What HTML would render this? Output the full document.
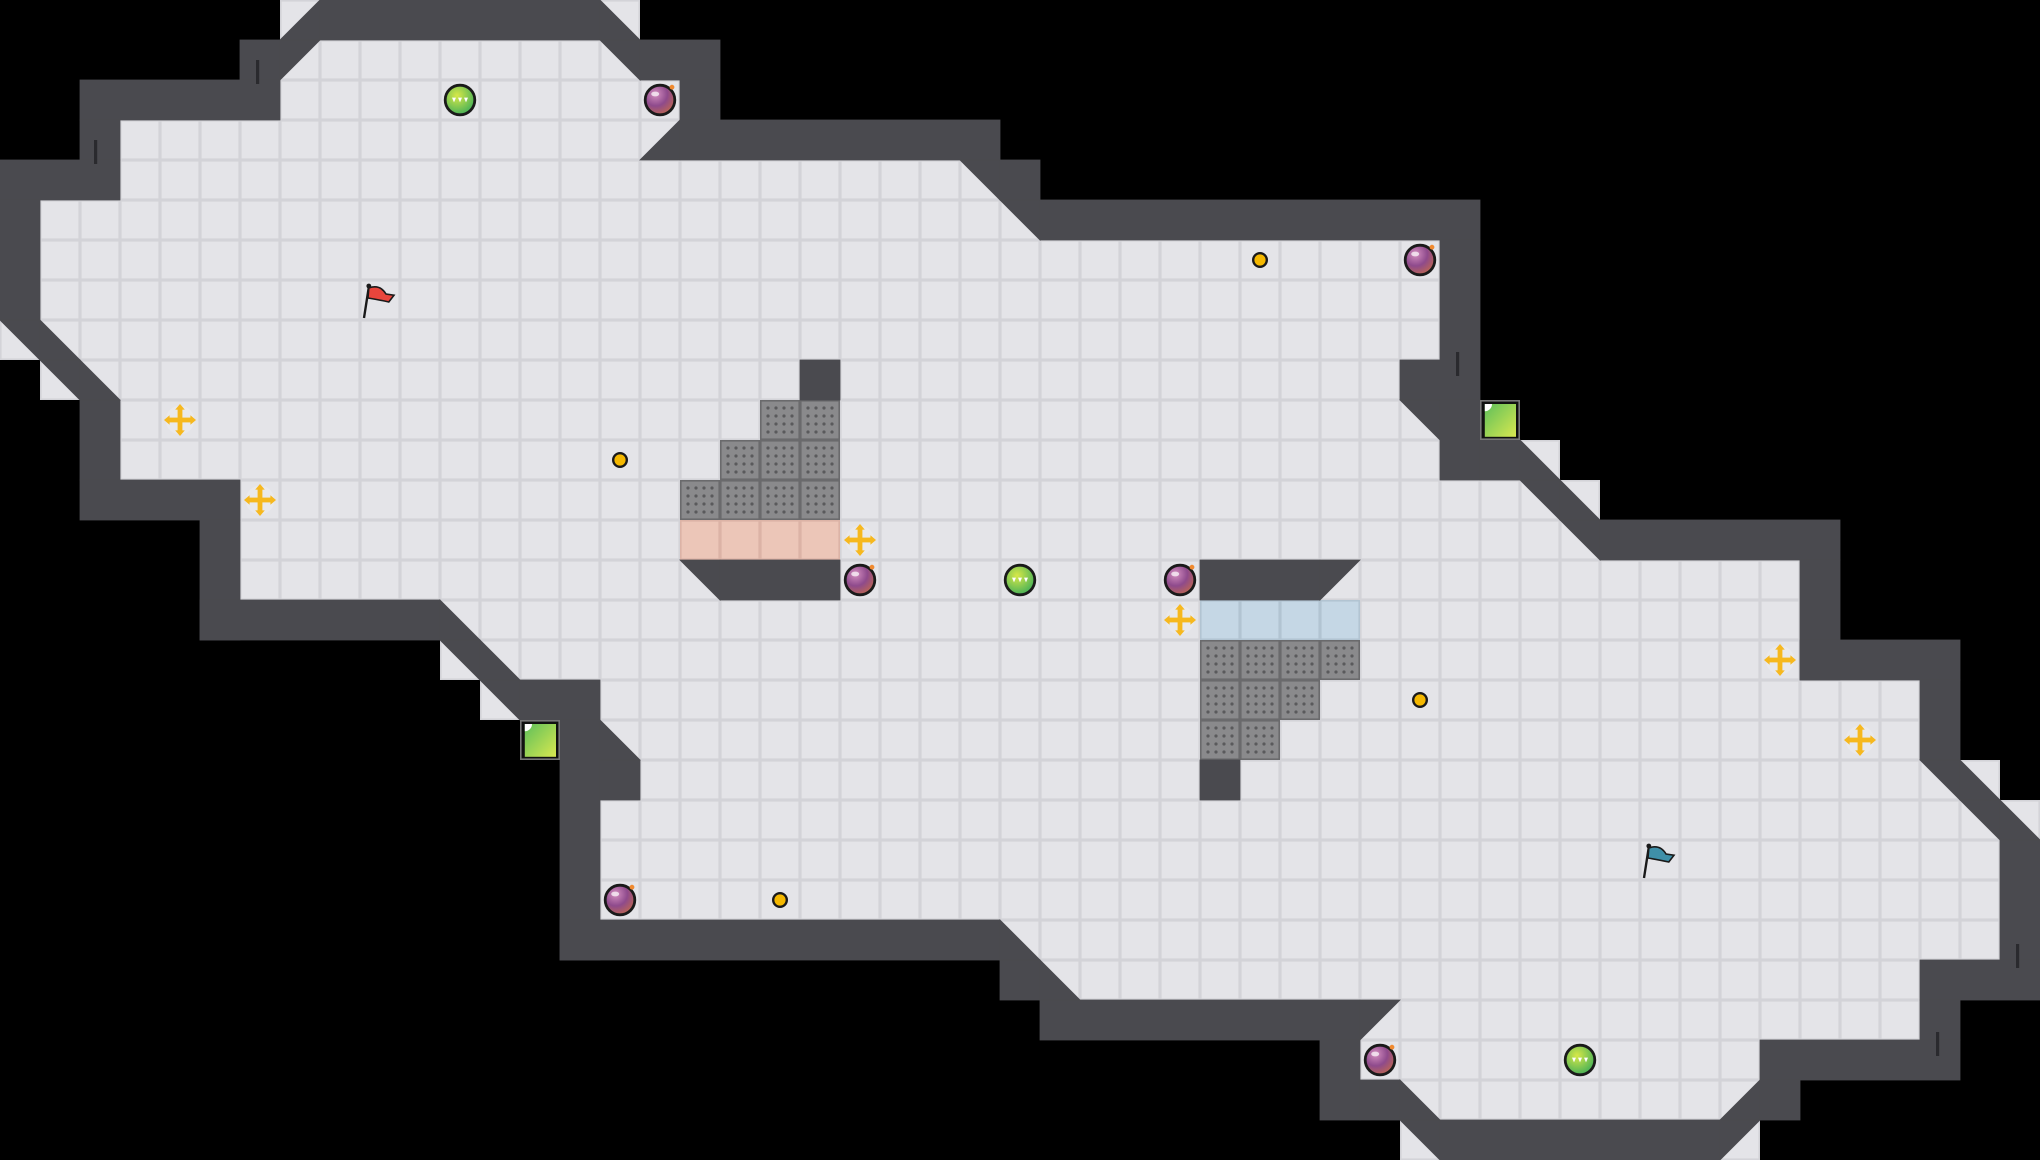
<!DOCTYPE html>
<html><head><meta charset="utf-8"><style>
html,body{margin:0;padding:0;background:#000;}
svg{display:block;}
</style></head><body>
<svg xmlns="http://www.w3.org/2000/svg" width="2040" height="1160" viewBox="0 0 51 29" preserveAspectRatio="none">
<defs>
<pattern id="fl" width="1" height="1" patternUnits="userSpaceOnUse">
<rect width="1" height="1" fill="#d3d3d8"/><rect x="0.04" y="0.04" width="0.92" height="0.92" fill="#e4e4e8"/>
</pattern>
<pattern id="gr" width="1" height="1" patternUnits="userSpaceOnUse">
<rect width="1" height="1" fill="#6a6a6c"/><rect x="0.04" y="0.04" width="0.92" height="0.92" fill="#8a8a8c"/>
<g fill="#5a5a5c">
<circle cx="0.2" cy="0.2" r="0.04"/><circle cx="0.4" cy="0.2" r="0.04"/><circle cx="0.6" cy="0.2" r="0.04"/><circle cx="0.8" cy="0.2" r="0.04"/>
<circle cx="0.2" cy="0.4" r="0.04"/><circle cx="0.4" cy="0.4" r="0.04"/><circle cx="0.6" cy="0.4" r="0.04"/><circle cx="0.8" cy="0.4" r="0.04"/>
<circle cx="0.2" cy="0.6" r="0.04"/><circle cx="0.4" cy="0.6" r="0.04"/><circle cx="0.6" cy="0.6" r="0.04"/><circle cx="0.8" cy="0.6" r="0.04"/>
<circle cx="0.2" cy="0.8" r="0.04"/><circle cx="0.4" cy="0.8" r="0.04"/><circle cx="0.6" cy="0.8" r="0.04"/><circle cx="0.8" cy="0.8" r="0.04"/>
</g>
</pattern>
<pattern id="rt" width="1" height="1" patternUnits="userSpaceOnUse">
<rect width="1" height="1" fill="#dcb3a6"/><rect x="0.04" y="0.04" width="0.92" height="0.92" fill="#ecc6b8"/>
</pattern>
<pattern id="bt" width="1" height="1" patternUnits="userSpaceOnUse">
<rect width="1" height="1" fill="#b2c4d2"/><rect x="0.04" y="0.04" width="0.92" height="0.92" fill="#c5d7e5"/>
</pattern>
<radialGradient id="gb" cx="0.4" cy="0.35" r="0.7"><stop offset="0" stop-color="#d8e848"/><stop offset="1" stop-color="#3fae58"/></radialGradient>
<radialGradient id="pb" cx="0.35" cy="0.3" r="0.8"><stop offset="0" stop-color="#d58fc0"/><stop offset="0.5" stop-color="#8e4a8c"/><stop offset="1" stop-color="#c46a4a"/></radialGradient>
<linearGradient id="gx" x1="0" y1="0" x2="1" y2="1"><stop offset="0" stop-color="#5fbf5a"/><stop offset="1" stop-color="#d8e850"/></linearGradient>
<g id="boost"><circle r="0.36" fill="#ececef" opacity="0.6"/>
<g fill="#f6b81f"><rect x="-0.3" y="-0.06" width="0.6" height="0.12"/><rect x="-0.06" y="-0.3" width="0.12" height="0.6"/>
<polygon points="-0.4,0 -0.26,-0.12 -0.26,0.12"/><polygon points="0.4,0 0.26,-0.12 0.26,0.12"/>
<polygon points="0,-0.4 -0.12,-0.26 0.12,-0.26"/><polygon points="0,0.4 -0.12,0.26 0.12,0.26"/></g></g>
<g id="jj"><circle r="0.37" fill="url(#gb)" stroke="#1a1a1a" stroke-width="0.07"/>
<g fill="#fff"><polygon points="-0.2,-0.06 -0.1,-0.06 -0.15,0.06"/><polygon points="-0.05,-0.06 0.05,-0.06 0,0.06"/><polygon points="0.1,-0.06 0.2,-0.06 0.15,0.06"/></g></g>
<g id="bomb"><circle r="0.37" fill="url(#pb)" stroke="#1a1a1a" stroke-width="0.07"/><ellipse cx="-0.12" cy="-0.15" rx="0.1" ry="0.06" fill="#fff" opacity="0.7"/><circle cx="0.3" cy="-0.32" r="0.06" fill="#f08a30"/></g>
<g id="dot"><circle r="0.17" fill="#f5b800" stroke="#1a1a1a" stroke-width="0.06"/></g>
<g id="gbox"><rect x="-0.48" y="-0.48" width="0.96" height="0.96" fill="#111" stroke="#777" stroke-width="0.04"/><rect x="-0.38" y="-0.4" width="0.78" height="0.82" fill="url(#gx)"/><path d="M-0.38,-0.4 L-0.2,-0.4 A0.18,0.18 0 0 1 -0.38,-0.22 Z" fill="#fff"/></g>
</defs>

<g fill="url(#fl)">
<rect x="8" y="1" width="7" height="1"/>
<rect x="7" y="2" width="10" height="1"/>
<rect x="3" y="3" width="13" height="1"/>
<rect x="3" y="4" width="21" height="1"/>
<rect x="1" y="5" width="24" height="1"/>
<rect x="1" y="6" width="35" height="2"/>
<rect x="2" y="8" width="34" height="1"/>
<rect x="3" y="9" width="32" height="2"/>
<rect x="3" y="11" width="33" height="1"/>
<rect x="6" y="12" width="32" height="1"/>
<rect x="6" y="13" width="33" height="1"/>
<rect x="6" y="14" width="39" height="1"/>
<rect x="12" y="15" width="33" height="1"/>
<rect x="13" y="16" width="32" height="1"/>
<rect x="15" y="17" width="33" height="1"/>
<rect x="16" y="18" width="32" height="2"/>
<rect x="15" y="20" width="34" height="1"/>
<rect x="15" y="21" width="35" height="2"/>
<rect x="26" y="23" width="24" height="1"/>
<rect x="27" y="24" width="21" height="1"/>
<rect x="35" y="25" width="13" height="1"/>
<rect x="34" y="26" width="10" height="1"/>
<rect x="36" y="27" width="7" height="1"/>
<rect x="7" y="0" width="1" height="2"/><rect x="15" y="0" width="1" height="2"/><rect x="16" y="3" width="1" height="1"/>
<rect x="24" y="4" width="1" height="1"/><rect x="25" y="5" width="1" height="1"/>
<rect x="0" y="8" width="2" height="1"/><rect x="1" y="9" width="2" height="1"/>
<rect x="35" y="10" width="1" height="1"/><rect x="38" y="11" width="1" height="2"/><rect x="39" y="12" width="1" height="2"/>
<rect x="11" y="15" width="1" height="2"/><rect x="12" y="16" width="1" height="2"/><rect x="15" y="18" width="1" height="1"/>
<rect x="48" y="19" width="2" height="1"/><rect x="49" y="20" width="2" height="1"/>
<rect x="25" y="23" width="1" height="1"/><rect x="26" y="24" width="1" height="1"/><rect x="34" y="25" width="1" height="1"/>
<rect x="35" y="27" width="1" height="2"/><rect x="43" y="27" width="1" height="2"/>
</g>

<g fill="url(#gr)">
<rect x="19" y="10" width="2" height="1"/><rect x="18" y="11" width="3" height="1"/><rect x="17" y="12" width="4" height="1"/>
<rect x="30" y="16" width="4" height="1"/><rect x="30" y="17" width="3" height="1"/><rect x="30" y="18" width="2" height="1"/>
</g>
<rect x="17" y="13" width="4" height="1" fill="url(#rt)"/>
<rect x="30" y="15" width="4" height="1" fill="url(#bt)"/>

<g fill="#4a4a4f" stroke="#4a4a4f" stroke-width="0.02">
<rect x="8" y="0" width="7" height="1"/>
<rect x="6" y="1" width="1" height="1"/><rect x="16" y="1" width="2" height="1"/>
<rect x="2" y="2" width="5" height="1"/><rect x="17" y="2" width="1" height="1"/>
<rect x="2" y="3" width="1" height="1"/><rect x="17" y="3" width="8" height="1"/>
<rect x="0" y="4" width="3" height="1"/><rect x="25" y="4" width="1" height="1"/>
<rect x="0" y="5" width="1" height="3"/><rect x="26" y="5" width="11" height="1"/>
<rect x="36" y="6" width="1" height="4"/><rect x="35" y="9" width="1" height="1"/>
<rect x="2" y="10" width="1" height="2"/><rect x="36" y="10" width="1" height="2"/><rect x="37" y="11" width="1" height="1"/>
<rect x="2" y="12" width="4" height="1"/>
<rect x="5" y="13" width="1" height="3"/><rect x="40" y="13" width="6" height="1"/>
<rect x="45" y="14" width="1" height="3"/>
<rect x="5" y="15" width="6" height="1"/>
<rect x="45" y="16" width="4" height="1"/>
<rect x="13" y="17" width="2" height="1"/><rect x="48" y="17" width="1" height="2"/>
<rect x="14" y="18" width="1" height="6"/><rect x="15" y="19" width="1" height="1"/>
<rect x="50" y="21" width="1" height="3"/>
<rect x="14" y="23" width="11" height="1"/>
<rect x="25" y="24" width="1" height="1"/><rect x="48" y="24" width="3" height="1"/>
<rect x="26" y="25" width="8" height="1"/><rect x="48" y="25" width="1" height="1"/>
<rect x="33" y="26" width="1" height="2"/><rect x="44" y="26" width="5" height="1"/>
<rect x="34" y="27" width="1" height="1"/><rect x="44" y="27" width="1" height="1"/>
<rect x="36" y="28" width="7" height="1"/>
<rect x="20" y="9" width="1" height="1"/>
<rect x="18" y="14" width="3" height="1"/>
<rect x="30" y="14" width="3" height="1"/>
<rect x="30" y="19" width="1" height="1"/>
<polygon points="8,0 8,1 7,1"/>
<polygon points="7,1 8,1 7,2"/>
<polygon points="15,0 15,1 16,1"/>
<polygon points="15,1 16,1 16,2"/>
<polygon points="17,3 17,4 16,4"/>
<polygon points="24,4 25,4 25,5"/>
<polygon points="25,5 26,5 26,6"/>
<polygon points="0,8 1,8 1,9"/>
<polygon points="1,8 1,9 2,9"/>
<polygon points="1,9 2,9 2,10"/>
<polygon points="2,9 2,10 3,10"/>
<polygon points="35,10 36,10 36,11"/>
<polygon points="38,11 38,12 39,12"/>
<polygon points="38,12 39,12 39,13"/>
<polygon points="39,12 39,13 40,13"/>
<polygon points="39,13 40,13 40,14"/>
<polygon points="11,15 11,16 12,16"/>
<polygon points="11,16 12,16 12,17"/>
<polygon points="12,16 12,17 13,17"/>
<polygon points="12,17 13,17 13,18"/>
<polygon points="15,18 15,19 16,19"/>
<polygon points="48,19 49,19 49,20"/>
<polygon points="49,19 49,20 50,20"/>
<polygon points="49,20 50,20 50,21"/>
<polygon points="50,20 50,21 51,21"/>
<polygon points="25,23 25,24 26,24"/>
<polygon points="26,24 26,25 27,25"/>
<polygon points="34,25 35,25 34,26"/>
<polygon points="35,27 35,28 36,28"/>
<polygon points="44,27 44,28 43,28"/>
<polygon points="35,28 36,28 36,29"/>
<polygon points="43,28 44,28 43,29"/>
<polygon points="17,14 18,14 18,15"/>
<polygon points="33,14 34,14 33,15"/>
</g>
<g fill="#2a2a2e">
<rect x="6.4" y="1.5" width="0.08" height="0.6"/><rect x="2.35" y="3.5" width="0.08" height="0.6"/>
<rect x="36.4" y="8.8" width="0.08" height="0.6"/><rect x="50.4" y="23.6" width="0.08" height="0.6"/><rect x="48.4" y="25.8" width="0.08" height="0.6"/>
</g>

<use href="#jj" x="11.5" y="2.5"/><use href="#jj" x="25.5" y="14.5"/><use href="#jj" x="39.5" y="26.5"/>
<use href="#bomb" x="16.5" y="2.5"/><use href="#bomb" x="35.5" y="6.5"/><use href="#bomb" x="21.5" y="14.5"/>
<use href="#bomb" x="29.5" y="14.5"/><use href="#bomb" x="15.5" y="22.5"/><use href="#bomb" x="34.5" y="26.5"/>
<use href="#dot" x="31.5" y="6.5"/><use href="#dot" x="15.5" y="11.5"/><use href="#dot" x="35.5" y="17.5"/><use href="#dot" x="19.5" y="22.5"/>
<use href="#boost" x="4.5" y="10.5"/><use href="#boost" x="6.5" y="12.5"/><use href="#boost" x="21.5" y="13.5"/>
<use href="#boost" x="29.5" y="15.5"/><use href="#boost" x="44.5" y="16.5"/><use href="#boost" x="46.5" y="18.5"/>
<use href="#gbox" x="37.5" y="10.5"/><use href="#gbox" x="13.5" y="18.5"/>
<g transform="translate(9,7)">
<line x1="0.1" y1="0.95" x2="0.22" y2="0.18" stroke="#1a1a1a" stroke-width="0.06"/>
<circle cx="0.22" cy="0.15" r="0.06" fill="#1a1a1a"/>
<path d="M0.22,0.2 Q0.5,0.1 0.65,0.35 L0.85,0.38 L0.72,0.55 Q0.5,0.5 0.2,0.45 Z" fill="#e8453c" stroke="#1a1a1a" stroke-width="0.04"/>
</g>
<g transform="translate(41,21)">
<line x1="0.1" y1="0.95" x2="0.22" y2="0.18" stroke="#1a1a1a" stroke-width="0.06"/>
<circle cx="0.22" cy="0.15" r="0.06" fill="#1a1a1a"/>
<path d="M0.22,0.2 Q0.5,0.1 0.65,0.35 L0.85,0.38 L0.72,0.55 Q0.5,0.5 0.2,0.45 Z" fill="#3f8fa8" stroke="#1a1a1a" stroke-width="0.04"/>
</g>
</svg>
</body></html>
